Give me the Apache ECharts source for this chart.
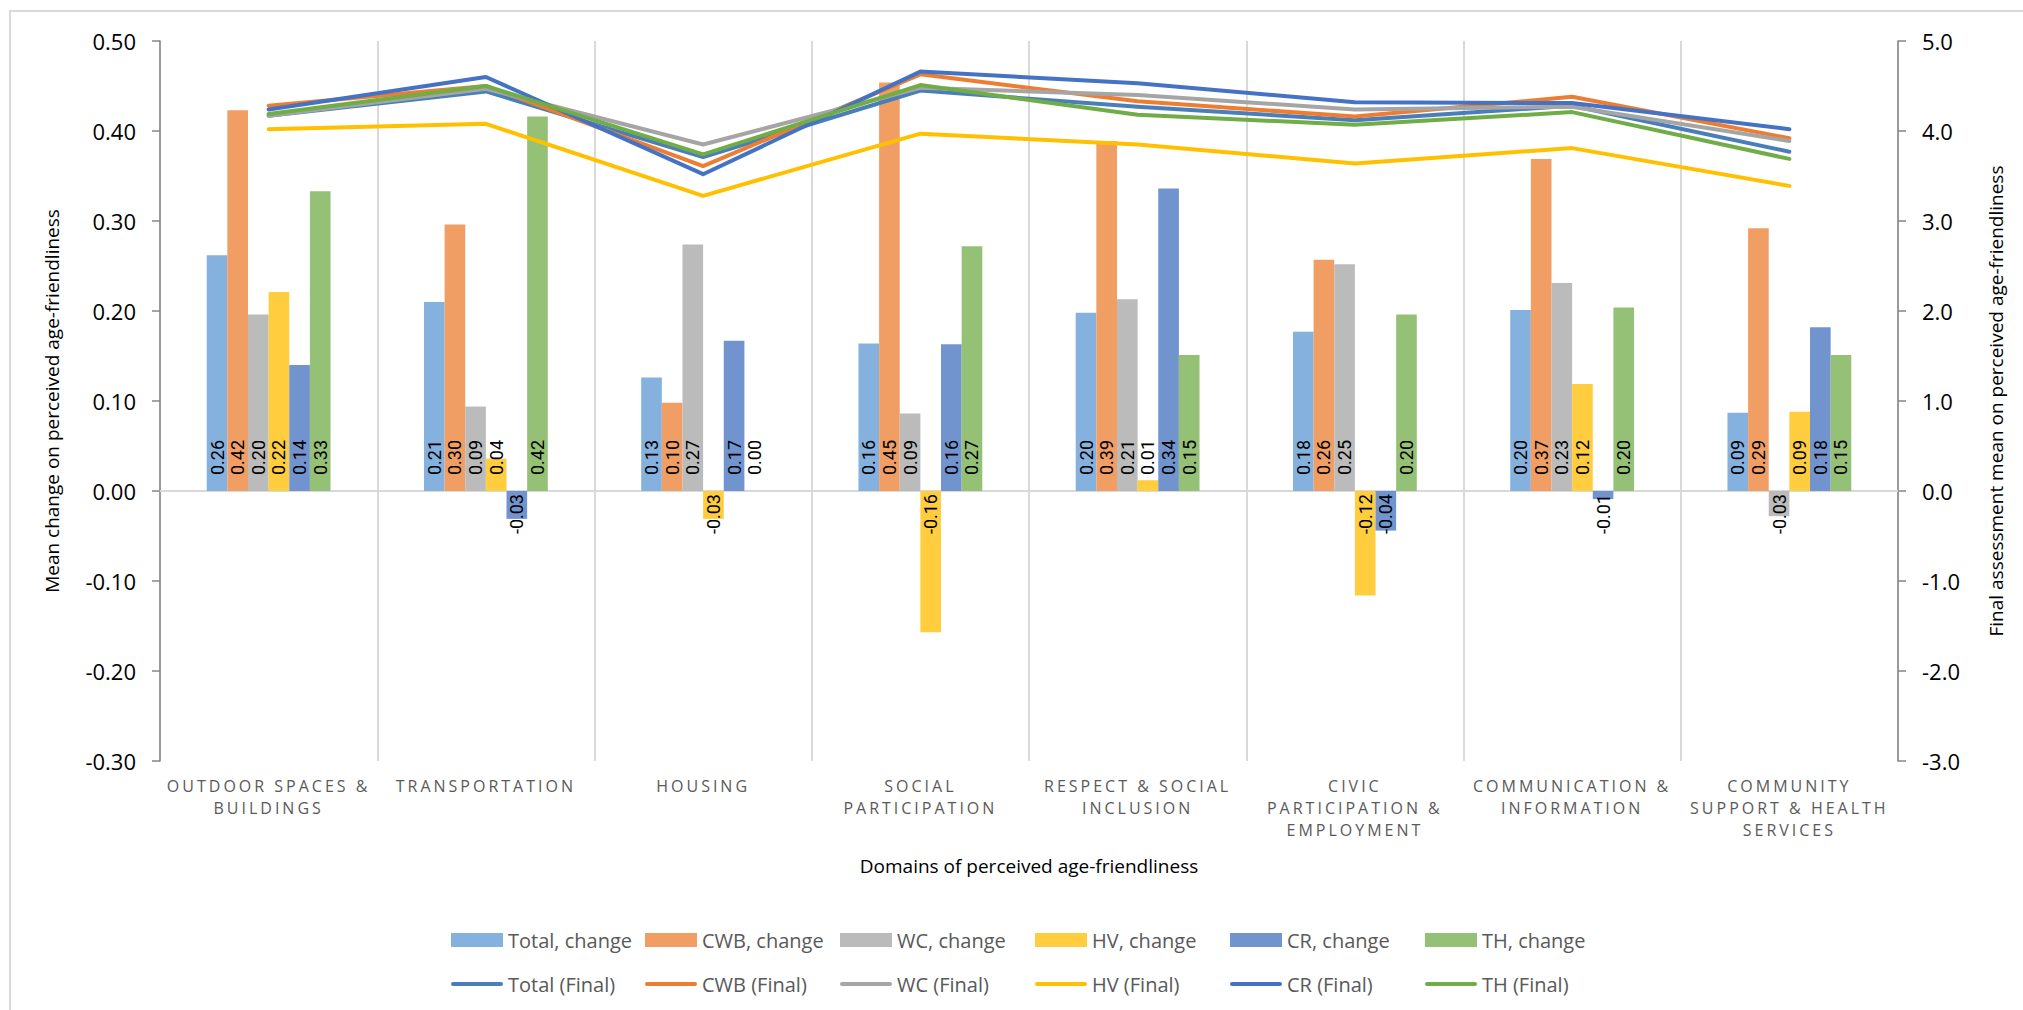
<!DOCTYPE html>
<html>
<head>
<meta charset="utf-8">
<script src="https://cdn.jsdelivr.net/npm/echarts@6/dist/echarts.min.js"></script>
<style>
  html, body { margin: 0; padding: 0; background: #fff; }
  #chart { width: 2023px; height: 1010px; }
  #chart text[fill="#5a5a5a"], #chart text[style*="90,90,90"], #chart text[style*="5a5a5a"] { letter-spacing: 3px; }
</style>
</head>
<body>
<div id="chart"></div>
<script>
// ---------- data ----------
const categories = [
  'OUTDOOR SPACES &\nBUILDINGS',
  'TRANSPORTATION',
  'HOUSING',
  'SOCIAL\nPARTICIPATION',
  'RESPECT & SOCIAL\nINCLUSION',
  'CIVIC\nPARTICIPATION &\nEMPLOYMENT',
  'COMMUNICATION &\nINFORMATION',
  'COMMUNITY\nSUPPORT & HEALTH\nSERVICES'
];

const totalChange = [0.262, 0.210, 0.126, 0.164, 0.198, 0.177, 0.201, 0.087];
const cwbChange   = [0.423, 0.296, 0.098, 0.454, 0.389, 0.257, 0.369, 0.292];
const wcChange    = [0.196, 0.094, 0.274, 0.086, 0.213, 0.252, 0.231, -0.028];
const hvChange    = [0.221, 0.036, -0.031, -0.157, 0.012, -0.116, 0.119, 0.088];
const crChange    = [0.140, -0.031, 0.167, 0.163, 0.336, -0.044, -0.009, 0.182];
const thChange    = [0.333, 0.416, 0.000, 0.272, 0.151, 0.196, 0.204, 0.151];

const totalFinal = [4.17, 4.44, 3.71, 4.45, 4.27, 4.12, 4.28, 3.77];
const cwbFinal   = [4.28, 4.50, 3.61, 4.63, 4.33, 4.16, 4.38, 3.92];
const wcFinal    = [4.17, 4.47, 3.85, 4.48, 4.40, 4.24, 4.27, 3.89];
const hvFinal    = [4.02, 4.08, 3.28, 3.97, 3.85, 3.64, 3.81, 3.39];
const crFinal    = [4.24, 4.60, 3.52, 4.66, 4.53, 4.32, 4.31, 4.02];
const thFinal    = [4.19, 4.50, 3.74, 4.51, 4.18, 4.07, 4.21, 3.69];

const barNames  = ['Total, change', 'CWB, change', 'WC, change', 'HV, change', 'CR, change', 'TH, change'];
const lineNames = ['Total (Final)', 'CWB (Final)', 'WC (Final)', 'HV (Final)', 'CR (Final)', 'TH (Final)'];

const leftAxisTitle  = 'Mean change on perceived age-friendliness';
const rightAxisTitle = 'Final assessment mean on perceived age-friendliness';
const xAxisTitle     = 'Domains of perceived age-friendliness';

// ---------- styles ----------
const barColors  = ['#84b1de', '#f19e65', '#bbbbbb', '#ffcd3d', '#7194cf', '#95c176'];
const lineColors = ['#4a7ebb', '#ed7d31', '#a5a5a5', '#ffc000', '#4472c4', '#70ad47'];
const barData  = [totalChange, cwbChange, wcChange, hvChange, crChange, thChange];
const lineData = [totalFinal, cwbFinal, wcFinal, hvFinal, crFinal, thFinal];

const labelFont = "'Liberation Sans Narrow', 'Roboto', sans-serif";
const mainFont = "'Open Sans', 'Noto Sans', sans-serif";

const fmt2 = p => Number(p.value).toFixed(2);
const posLabel = {
  show: true, position: 'insideBottom', distance: 16, rotate: 90,
  align: 'left', verticalAlign: 'middle', formatter: fmt2,
  fontSize: 18, fontFamily: labelFont, color: '#000'
};
const negLabel = {
  show: true, position: 'insideTop', distance: 3, rotate: 90,
  align: 'right', verticalAlign: 'middle', formatter: fmt2,
  fontSize: 18, fontFamily: labelFont, color: '#000'
};

const series = [];
barData.forEach((arr, i) => {
  series.push({
    name: barNames[i], type: 'bar', xAxisIndex: 0, yAxisIndex: 0,
    barGap: '0%', barCategoryGap: '43%',
    itemStyle: { color: barColors[i] },
    label: posLabel,
    data: arr.map(v => v < 0 ? { value: v, label: negLabel } : v)
  });
});
lineData.forEach((arr, i) => {
  series.push({
    name: lineNames[i], type: 'line', xAxisIndex: 0, yAxisIndex: 1,
    symbol: 'none', showSymbol: false,
    lineStyle: { color: lineColors[i], width: 4, cap: 'round', join: 'round' },
    itemStyle: { color: lineColors[i] },
    data: arr
  });
});

const lineIcon = 'path://M2,0 L50,0 A2,2 0 0 1 50,4 L2,4 A2,2 0 0 1 2,0 Z';
const legendLefts = [446, 640, 835, 1030, 1225, 1420];
const legends = barNames.map((n, i) => ({
  orient: 'vertical', left: legendLefts[i], top: 923,
  itemWidth: 52, itemHeight: 14, itemGap: 20,
  selectedMode: false, symbolKeepAspect: true,
  textStyle: { fontFamily: mainFont, fontSize: 20, color: '#595959', lineHeight: 24 },
  data: [
    { name: n, icon: 'rect' },
    { name: lineNames[i], icon: lineIcon, itemStyle: { color: lineColors[i] } }
  ]
}));

const chart = echarts.init(document.getElementById('chart'), null, { renderer: 'svg' });
chart.setOption({
  backgroundColor: '#ffffff',
  animation: false,
  grid: { left: 160, right: 125, top: 41, bottom: 249, containLabel: false },
  legend: legends,
  xAxis: [
    {
      type: 'category', data: categories, boundaryGap: true,
      axisLine: { show: true, onZero: true, lineStyle: { color: '#d9d9d9', width: 2 } },
      axisTick: { show: false }, axisLabel: { show: false },
      splitLine: { show: true, interval: 0, lineStyle: { color: '#d9d9d9', width: 2 } }
    },
    {
      type: 'category', data: categories, boundaryGap: true, position: 'bottom',
      axisLine: { show: false, onZero: false }, axisTick: { show: false },
      splitLine: { show: false },
      axisLabel: {
        show: true, interval: 0, margin: 14, color: '#5a5a5a',
        fontFamily: mainFont, fontSize: 16, lineHeight: 22
      }
    }
  ],
  yAxis: [
    {
      type: 'value', min: -0.3, max: 0.5, interval: 0.1, position: 'left',
      axisLine: { show: true, lineStyle: { color: '#868686', width: 1.5 } },
      axisTick: { show: true, length: 8, lineStyle: { color: '#868686', width: 1.5 } },
      splitLine: { show: false },
      axisLabel: { margin: 24, color: '#000', fontFamily: mainFont, fontSize: 22, formatter: v => v.toFixed(2) }
    },
    {
      type: 'value', min: -3, max: 5, interval: 1, position: 'right',
      axisLine: { show: true, lineStyle: { color: '#868686', width: 1.5 } },
      axisTick: { show: true, length: 8, lineStyle: { color: '#868686', width: 1.5 } },
      splitLine: { show: false },
      axisLabel: { margin: 24, color: '#000', fontFamily: mainFont, fontSize: 22, formatter: v => v.toFixed(1) }
    }
  ],
  graphic: [
    { type: 'rect', silent: true, z: -10, shape: { x: 10, y: 11, width: 2200, height: 1200 },
      style: { fill: 'none', stroke: '#d9d9d9', lineWidth: 2 } },
    { type: 'text', x: 52, y: 401, rotation: Math.PI / 2,
      style: { text: leftAxisTitle, fill: '#000', font: "19px 'Open Sans', sans-serif", align: 'center', verticalAlign: 'middle' } },
    { type: 'text', x: 1996, y: 401, rotation: Math.PI / 2,
      style: { text: rightAxisTitle, fill: '#000', font: "19px 'Open Sans', sans-serif", align: 'center', verticalAlign: 'middle' } },
    { type: 'text', x: 1029, y: 866,
      style: { text: xAxisTitle, fill: '#000', font: "19px 'Open Sans', sans-serif", align: 'center', verticalAlign: 'middle' } }
  ],
  series: series
});
</script>
</body>
</html>
